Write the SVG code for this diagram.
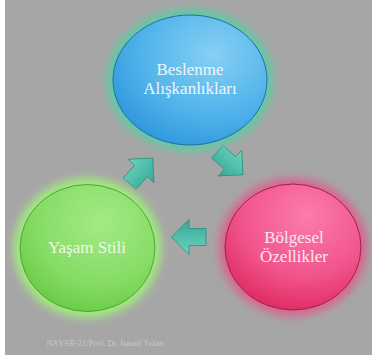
<svg xmlns="http://www.w3.org/2000/svg" width="372" height="358" viewBox="0 0 372 358">
<defs>
<style>
.lbl{font-family:"Liberation Serif","DejaVu Serif",serif;font-size:17px;text-anchor:middle}
.arr{fill:url(#gArr);stroke:#2b8f80;stroke-width:0.8}
</style>
<filter id="blur" x="-30%" y="-30%" width="160%" height="160%"><feGaussianBlur stdDeviation="4.5"/></filter>
<radialGradient id="gBlue" cx="0.65" cy="0.3" r="0.8"><stop offset="0" stop-color="#86d0f4"/><stop offset="0.6" stop-color="#4fb2ea"/><stop offset="1" stop-color="#2a93da"/></radialGradient>
<radialGradient id="gGreen" cx="0.6" cy="0.3" r="0.8"><stop offset="0" stop-color="#a4ea86"/><stop offset="0.6" stop-color="#86dc64"/><stop offset="1" stop-color="#62c840"/></radialGradient>
<radialGradient id="gPink" cx="0.6" cy="0.25" r="0.8"><stop offset="0" stop-color="#fb7cab"/><stop offset="0.6" stop-color="#f2548c"/><stop offset="1" stop-color="#de2860"/></radialGradient>
<linearGradient id="gArr" x1="0" y1="0" x2="0" y2="1"><stop offset="0" stop-color="#6fd3c0"/><stop offset="1" stop-color="#34a896"/></linearGradient>
<polygon id="arrow" points="-17,-8.5 0,-8.5 0,-17.5 17.5,0 0,17.5 0,8.5 -17,8.5"/>
</defs>
<rect x="0" y="0" width="372" height="358" fill="#ffffff"/>
<rect x="5" y="0" width="367" height="355" fill="#a6a6a6"/>
<g id="connectors">
<use href="#arrow" class="arr" transform="translate(141,171) rotate(-48)"/>
<use href="#arrow" class="arr" transform="translate(230,163) rotate(42)"/>
<use href="#arrow" class="arr" transform="translate(189,237) rotate(180)"/>
</g>
<g id="node-beslenme">
<ellipse cx="190" cy="80" rx="83" ry="71" fill="#5ecaa6" filter="url(#blur)"/>
<ellipse cx="190" cy="80" rx="77" ry="65" fill="url(#gBlue)" stroke="#1f6ea6" stroke-width="1"/>
<text class="lbl" x="190" y="75" fill="#eef7fc">Beslenme</text>
<text class="lbl" x="190" y="94" fill="#eef7fc">Alışkanlıkları</text>
</g>
<g id="node-yasam">
<ellipse cx="87.5" cy="248" rx="74" ry="70" fill="#a2ea80" filter="url(#blur)"/>
<ellipse cx="87.5" cy="248" rx="67.5" ry="63.5" fill="url(#gGreen)" stroke="#4fa434" stroke-width="1"/>
<text class="lbl" x="87" y="253" fill="#eef8ea">Yaşam Stili</text>
</g>
<g id="node-bolgesel">
<ellipse cx="293" cy="247" rx="74" ry="69" fill="#d9648f" filter="url(#blur)"/>
<ellipse cx="293" cy="247" rx="68" ry="63" fill="url(#gPink)" stroke="#9e1f4a" stroke-width="1"/>
<text class="lbl" x="294" y="243" fill="#fbe8f0">Bölgesel</text>
<text class="lbl" x="294" y="262" fill="#fbe8f0">Özellikler</text>
</g>
<text x="105" y="346" font-family="Liberation Serif, DejaVu Serif, serif" font-size="8.5" fill="#c4c8cc" text-anchor="middle">NAYAR-21/Prof. Dr. İsmail Tufan</text>
</svg>
